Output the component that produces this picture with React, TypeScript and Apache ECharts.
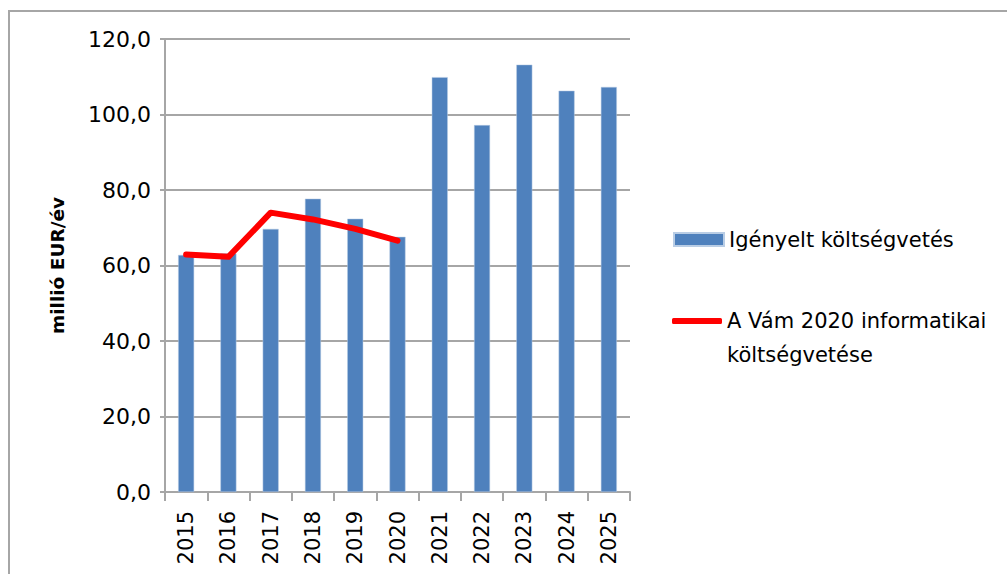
import React, { useEffect, useRef } from "react";
import * as echarts from "echarts";

const years = ["2015", "2016", "2017", "2018", "2019", "2020", "2021", "2022", "2023", "2024", "2025"];
const requested = [62.8, 63.2, 69.7, 77.7, 72.4, 67.6, 109.9, 97.2, 113.2, 106.3, 107.3];
const vam2020 = [62.9, 62.3, 74.0, 72.2, 69.7, 66.6, null, null, null, null, null];
const barName = "Igényelt költségvetés";
const lineName = "A Vám 2020 informatikai költségvetése";

const FONT = "'DejaVu Sans', 'Open Sans', sans-serif";
const GRID = "#a6a6a6";

export default function App() {
  const ref = useRef<HTMLDivElement>(null);
  useEffect(() => {
    const chart = echarts.init(ref.current!, null, { renderer: "svg" });
    chart.setOption({
      animation: false,
      backgroundColor: "#ffffff",
      textStyle: { fontFamily: FONT },
      grid: { left: 165, right: 377, top: 39, bottom: 82, containLabel: false },
      graphic: [
        {
          type: "polyline",
          shape: { points: [[9, 600], [9, 11], [1010, 11]] },
          style: { stroke: GRID, lineWidth: 2, fill: null },
          silent: true,
        },
      ],
      legend: [
        {
          data: [{ name: barName, icon: "rect" }],
          left: 673,
          top: 229,
          padding: 0,
          itemWidth: 50,
          itemHeight: 13,
          itemGap: 0,
          textStyle: { fontFamily: FONT, fontSize: 21, color: "#000" },
        },
        {
          data: [{ name: lineName, icon: "roundRect" }],
          left: 672,
          top: 270,
          padding: 0,
          itemWidth: 50,
          itemHeight: 6,
          itemStyle: { color: "#ff0000" },
          formatter: () => "\nA Vám 2020 informatikai\nköltségvetése",
          textStyle: {
            fontFamily: FONT,
            fontSize: 21,
            lineHeight: 34,
            color: "#000",
          },
        },
      ],
      xAxis: {
        type: "category",
        data: years,
        axisLine: { lineStyle: { color: GRID, width: 2 } },
        axisTick: { show: true, length: 9, lineStyle: { color: GRID, width: 2 } },
        axisLabel: {
          rotate: 90,
          margin: 19,
          fontFamily: FONT,
          fontSize: 21,
          color: "#000",
        },
      },
      yAxis: {
        type: "value",
        min: 0,
        max: 120,
        interval: 20,
        name: "millió EUR/év",
        nameLocation: "middle",
        nameGap: 98,
        nameRotate: 90,
        nameTextStyle: { fontFamily: FONT, fontSize: 18.5, fontWeight: "bold", color: "#000" },
        axisLine: { show: true, lineStyle: { color: GRID, width: 2 } },
        axisTick: { show: true, length: 5, lineStyle: { color: GRID, width: 2 } },
        splitLine: { lineStyle: { color: GRID, width: 2 } },
        axisLabel: {
          margin: 14,
          fontFamily: FONT,
          fontSize: 22,
          color: "#000",
          formatter: (v: number) => v.toFixed(1).replace(".", ","),
        },
      },
      series: [
        {
          name: barName,
          type: "bar",
          data: requested,
          barWidth: 16,
          itemStyle: { color: "#4f81bd", borderColor: "#b9cde5", borderWidth: 0.5 },
        },
        {
          name: lineName,
          type: "line",
          data: vam2020,
          symbol: "none",
          lineStyle: { color: "#ff0000", width: 6, cap: "round", join: "round" },
          itemStyle: { color: "#ff0000" },
        },
      ],
    });
    return () => chart.dispose();
  }, []);
  return (
    <div
      ref={ref}
      style={{ position: "absolute", left: 0, top: 0, width: 1007, height: 574 }}
    />
  );
}
